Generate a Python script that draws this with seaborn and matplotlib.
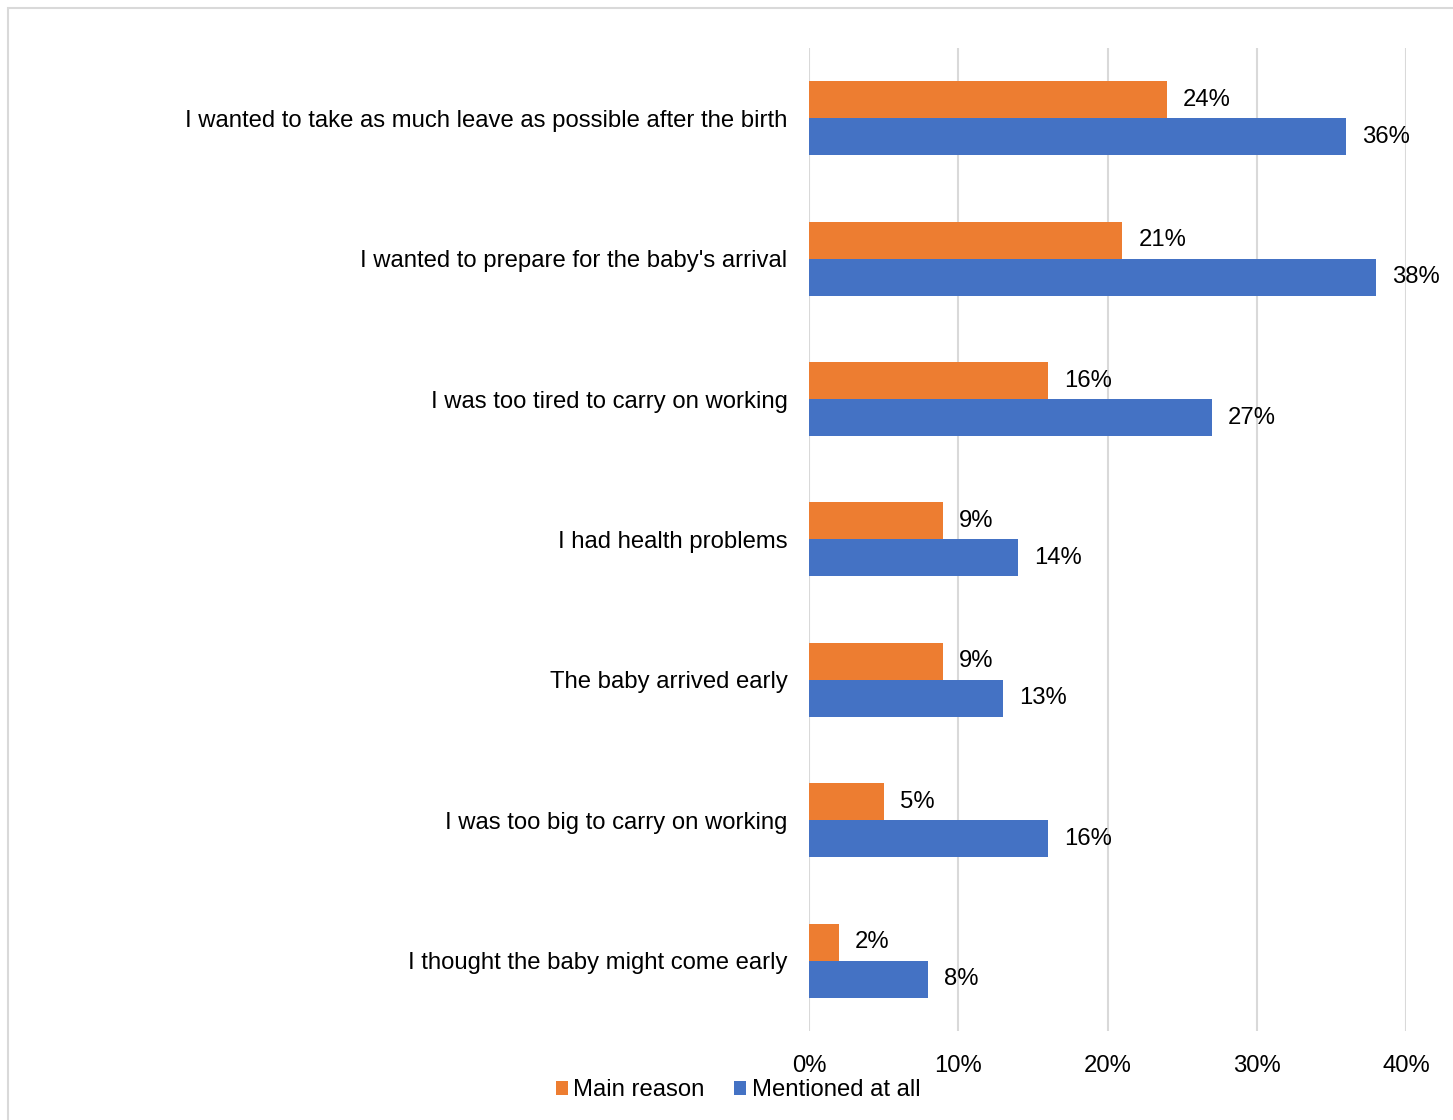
import matplotlib
matplotlib.use("Agg")
import matplotlib.pyplot as plt
from matplotlib.patches import Rectangle, Patch
import seaborn as sns
import pandas as pd

reasons = [
    "I wanted to take as much leave as possible after the birth",
    "I wanted to prepare for the baby's arrival",
    "I was too tired to carry on working",
    "I had health problems",
    "The baby arrived early",
    "I was too big to carry on working",
    "I thought the baby might come early",
]
main_reason = [24, 21, 16, 9, 9, 5, 2]
mentioned_at_all = [36, 38, 27, 14, 13, 16, 8]
series_names = ["Main reason", "Mentioned at all"]
x_ticks = [0, 10, 20, 30, 40]

colors = {"Main reason": "#ED7D31", "Mentioned at all": "#4472C4"}

df = pd.DataFrame({
    "reason": reasons * 2,
    "value": main_reason + mentioned_at_all,
    "series": [series_names[0]] * len(reasons) + [series_names[1]] * len(reasons),
})

sns.set_theme(style="white")
plt.rcParams["font.family"] = ["Liberation Sans", "DejaVu Sans"]
plt.rcParams["text.color"] = "black"
FS = 17.2

fig = plt.figure(figsize=(14.53, 11.2), dpi=100)
ax = fig.add_axes([0.5568, 0.0795, 0.4109, 0.8777])

sns.barplot(data=df, x="value", y="reason", hue="series", order=reasons,
            hue_order=series_names, palette=colors, orient="h",
            width=0.527, gap=0, saturation=1, errorbar=None,
            edgecolor="none", linewidth=0, ax=ax, legend=False)

ax.set_xlim(0, 40)
ax.set_xticks(x_ticks)
ax.set_xticklabels([f"{t}%" for t in x_ticks])
ax.grid(axis="x", color="#d9d9d9", linewidth=1.5)
ax.grid(axis="y", visible=False)
ax.set_axisbelow(True)
for s in ax.spines.values():
    s.set_visible(False)
ax.tick_params(axis="both", length=0, labelsize=FS, colors="black")
ax.tick_params(axis="x", pad=17)
ax.tick_params(axis="y", pad=15.5)
ax.set_xlabel("")
ax.set_ylabel("")

for container in ax.containers:
    ax.bar_label(container, labels=[f"{v:.0f}%" for v in container.datavalues],
                 padding=11.5, fontsize=FS, color="black")

handles = [Patch(facecolor=colors[n], edgecolor="none") for n in series_names]
fig.legend(handles, series_names, loc="center", bbox_to_anchor=(0.508, 0.0265),
           ncol=2, frameon=False, fontsize=FS, handlelength=0.5, handleheight=0.5,
           handletextpad=0.22, columnspacing=1.25, borderpad=0, labelcolor="black")

fig.patches.append(Rectangle((8 / 1453, -0.1), 1.2, 1 - 8 / 1120 + 0.1,
                             transform=fig.transFigure, fill=False,
                             edgecolor="#d9d9d9", linewidth=1.5))

fig.savefig("out.png", dpi=100, facecolor="white")
